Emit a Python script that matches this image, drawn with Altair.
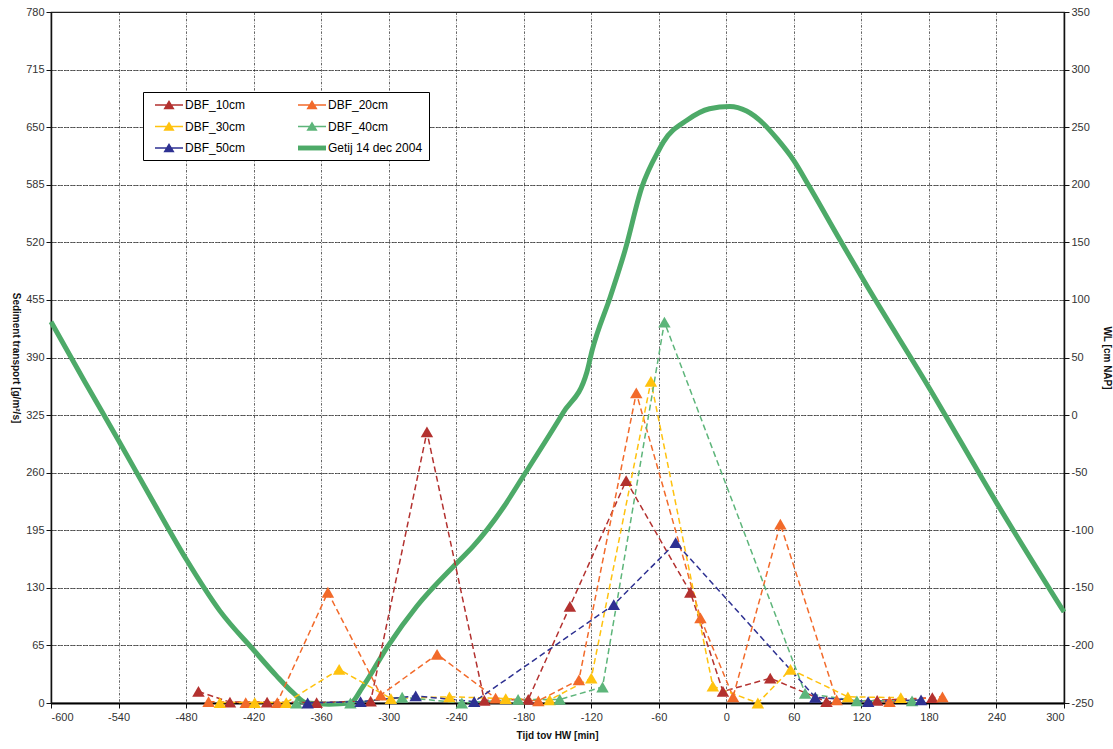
import altair as alt
import pandas as pd

# ---------------- data ----------------
series_names = ["DBF_10cm", "DBF_20cm", "DBF_30cm", "DBF_40cm", "DBF_50cm", "Getij 14 dec 2004"]
series_colors = ["#B3312F", "#F26A2A", "#FFC20E", "#5DB57A", "#2E3192", "#4DAA68"]

t10 = [-469, -441, -408, -364, -316, -266, -215, -176, -139, -89, -32, -3, 39, 89, 134, 183]
v10 = [13, 1, 1, 0.5, 2, 306, 3, 4, 109, 251, 125, 13, 28, 1.5, 3, 6]

t20 = [-460, -427, -399, -354, -307, -257, -205, -167, -131, -80, -23, 6, 48, 98, 145, 192]
v20 = [1.5, 0.5, 0.5, 125, 9, 55, 5.5, 2.5, 26, 350, 96, 7, 202, 3.5, 1.5, 7]

t30 = [-450, -419, -391, -344, -298, -246, -196, -157, -120, -67, -12, 28, 57, 108, 155]
v30 = [0.5, 0.5, 0.5, 38, 5, 7, 5, 3.5, 28, 363, 19, 0, 38, 7, 6]

t40 = [-382, -334, -288, -235, -185, -148, -110, -55, 70, 116, 165]
v40 = [0, 0, 6.5, 0, 4, 4, 18, 430, 11, 2.5, 2.5]

t50 = [-372, -325, -276, -224, -100, -45, 79, 126, 173]
v50 = [0, 1.5, 8, 1.5, 111, 181, 6.5, 1.5, 3.5]

tide_t = [-600, -570, -540, -510, -480, -450, -420, -400, -385, -373, -353, -334, -323,
          -301, -275, -239, -225, -198, -181, -145, -124, -119, -103, -90, -75, -60,
          -56, -35, -15, 3, 18, 33, 45, 60, 74, 101, 125, 180, 240, 300]
tide_wl = [81, 29, -22, -74, -125, -170, -204, -226, -241, -250, -251, -250, -236,
           -201, -166, -128, -114, -80, -54, 2, 37, 57, 103, 143, 198, 230,
           237, 256, 266, 268, 264, 253, 240, 221, 198, 152, 112, 24, -76, -171]

x_ticks = list(range(-600, 301, 60))
left_ticks = list(range(0, 781, 65))
right_ticks = list(range(-250, 351, 50))

# legend symbols: dashed series = thin line + triangle, tide = thick line
sym_series = "M-2,-0.1H2V0.1H-2ZM-0.8,0.6L0,-0.7L0.8,0.6Z"
sym_tide = "M-2,-0.35H2V0.35H-2Z"
legend_shapes = [sym_series] * 5 + [sym_tide]

# ---------------- tables ----------------
rows = []
for name, ts, vs in zip(series_names[:5], [t10, t20, t30, t40, t50], [v10, v20, v30, v40, v50]):
    for t, v in zip(ts, vs):
        rows.append({"series": name, "t": t, "v": v})
sed = pd.DataFrame(rows)
tide = pd.DataFrame({"series": series_names[5], "t": tide_t, "wl": tide_wl})

x_enc = alt.X(
    "t:Q",
    scale=alt.Scale(domain=[-600, 300], nice=False, zero=False),
    axis=alt.Axis(values=x_ticks, title="Tijd tov HW [min]", labelExpr="'' + datum.value",
                  domainWidth=2, domainColor="#000", titleX=506, titleY=27,
                  titleAlign="center", titleBaseline="top", labelPadding=3, grid=True),
)

y_sed = alt.Y(
    "v:Q",
    scale=alt.Scale(domain=[0, 780], nice=False, zero=False),
    axis=alt.Axis(orient="left", values=left_ticks, title="Sediment transport [g/m²/s]",
                  labelExpr="'' + datum.value", titleAngle=90, titleX=-36, titleY=345.5,
                  titleAlign="center", titleBaseline="middle", domainWidth=1.5, grid=True),
)

y_tide = alt.Y(
    "wl:Q",
    scale=alt.Scale(domain=[-250, 350], nice=False, zero=False),
    axis=alt.Axis(orient="right", values=right_ticks, title="WL [cm NAP]", grid=True,
                  labelExpr="'' + datum.value", titleAngle=90, titleX=42, titleY=345.5,
                  titleAlign="center", titleBaseline="middle", domainWidth=1.5),
)

legend = alt.Legend(
    title=None, orient="none", legendX=92, legendY=80, columns=2, direction="horizontal",
    padding=6, strokeColor="#000", fillColor="#ffffff", symbolSize=196, symbolStrokeWidth=0,
    symbolOpacity=1, symbolOffset=13, labelOffset=9, columnPadding=46, rowPadding=8.5,
    labelFont="Liberation Sans", labelFontSize=12, labelColor="#000",
)

stroke_enc = alt.Stroke("series:N", scale=alt.Scale(range=series_colors), legend=None)
fill_enc = alt.Fill("series:N", scale=alt.Scale(range=series_colors[:5]), legend=None)

tide_line = alt.Chart(tide).mark_line(strokeWidth=5, interpolate="monotone").encode(
    x=x_enc, y=y_tide, stroke=stroke_enc,
)

sed_lines = alt.Chart(sed).mark_line(strokeWidth=1.5, strokeDash=[6, 3.5]).encode(
    x=x_enc, y=y_sed, stroke=stroke_enc,
)

sed_points = alt.Chart(sed).mark_point(shape="triangle-up", filled=True, size=155, opacity=1).encode(
    x=x_enc, y=y_sed, fill=fill_enc,
)

# invisible layer that only carries the legend
legend_layer = alt.Chart(sed).mark_point(filled=True, opacity=0).encode(
    x=x_enc, y=y_sed,
    color=alt.Color("series:N", scale=alt.Scale(domain=series_names, range=series_colors), legend=legend),
    shape=alt.Shape("series:N", scale=alt.Scale(domain=series_names, range=legend_shapes), legend=legend),
)

sediment = alt.layer(sed_lines, sed_points, legend_layer)

chart = (
    alt.layer(tide_line, sediment)
    .resolve_scale(y="independent")
    .properties(
        width=1013, height=691,
        autosize=alt.AutoSizeParams(type="none"),
        padding={"left": 51, "top": 12, "right": 49, "bottom": 46},
        background="white",
    )
    .configure_view(stroke="#222", strokeWidth=1.2)
    .configure_axis(
        labelFont="Liberation Sans", labelFontSize=11, labelColor="#333",
        titleFont="Liberation Sans", titleFontSize=10, titleFontWeight="bold", titleColor="#111",
        gridColor="#222", gridDash=[2.5, 1.5, 0.8, 1.5], gridWidth=0.7, gridOpacity=1,
        domainColor="#111", tickColor="#111", tickSize=5,
    )
)

chart.save("out.html", embed_options={"renderer": "svg", "actions": False})
